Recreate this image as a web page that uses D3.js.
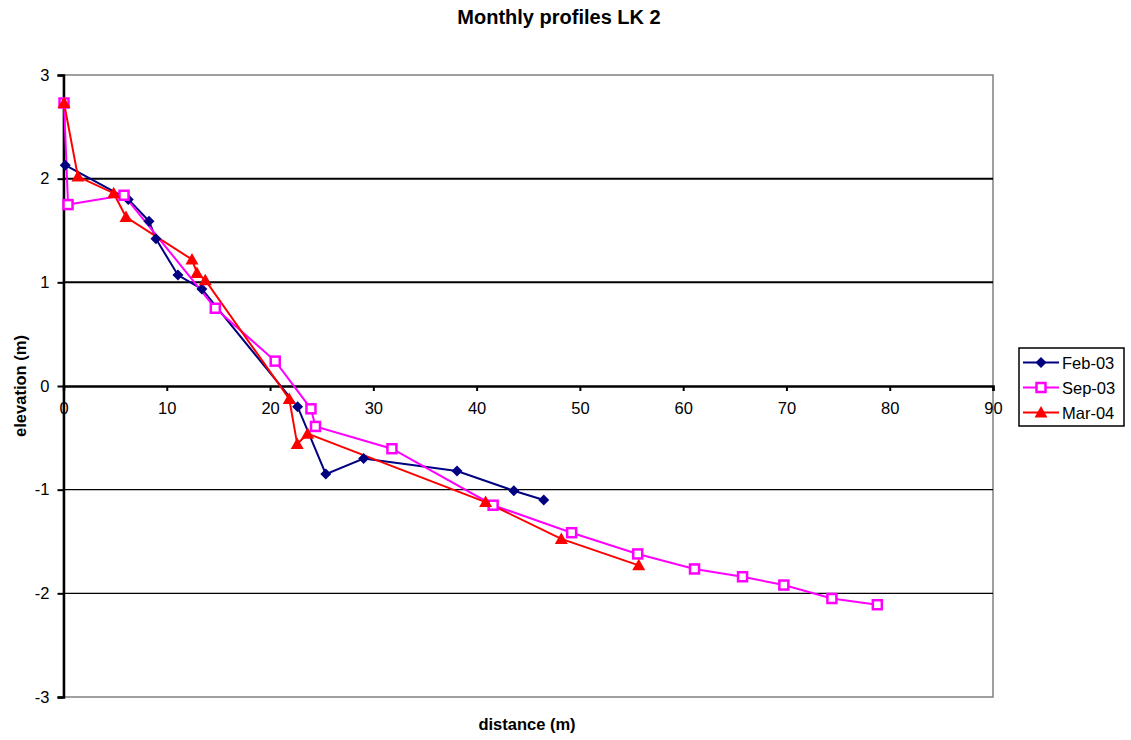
<!DOCTYPE html>
<html>
<head>
<meta charset="utf-8">
<script src="https://cdn.jsdelivr.net/npm/d3@7"></script>
<style>
  body { margin: 0; background: #fff; }
  svg { font-family: Arial, "Liberation Sans", sans-serif; }
</style>
</head>
<body>
<svg id="chart" width="1131" height="740"></svg>
<script>
const width = 1131,
      height = 740,
      margin = { top: 75, right: 138, bottom: 43, left: 63.5 }

const seriesNames = ["Feb-03", "Sep-03", "Mar-04"]
const seriesColors = ["#000080", "#FF00FF", "#FF0000"]

const feb03x = [0.17, 6.27, 8.28, 8.95, 11.08, 13.4, 22.67, 25.4, 29.06, 38.1, 43.6, 46.5]
const feb03y = [2.13, 1.80, 1.59, 1.42, 1.07, 0.935, -0.20, -0.85, -0.70, -0.82, -1.01, -1.10]

const sep03x = [0.05, 0.44, 5.86, 14.7, 20.5, 23.96, 24.4, 31.8, 41.6, 49.2, 55.6, 61.1, 65.75, 69.75, 74.4, 78.8]
const sep03y = [2.73, 1.75, 1.84, 0.75, 0.24, -0.22, -0.39, -0.605, -1.15, -1.415, -1.62, -1.765, -1.84, -1.92, -2.05, -2.11]

const mar04x = [0.05, 1.4, 4.86, 6.05, 12.44, 12.92, 13.73, 21.86, 22.63, 23.64, 40.87, 48.2, 55.7]
const mar04y = [2.73, 2.02, 1.86, 1.63, 1.22, 1.09, 1.02, -0.125, -0.56, -0.46, -1.12, -1.475, -1.73]

const xTicks = [0, 10, 20, 30, 40, 50, 60, 70, 80, 90]
const yTicks = [-3, -2, -1, 0, 1, 2, 3]

const series = [
  { name: seriesNames[0], color: seriesColors[0], shape: "diamond", pts: feb03x.map((x, i) => [x, feb03y[i]]) },
  { name: seriesNames[1], color: seriesColors[1], shape: "square", pts: sep03x.map((x, i) => [x, sep03y[i]]) },
  { name: seriesNames[2], color: seriesColors[2], shape: "triangle", pts: mar04x.map((x, i) => [x, mar04y[i]]) }
]

const svg = d3.select("#chart")

const x = d3.scaleLinear().domain([0, 90]).range([margin.left, width - margin.right])
const y = d3.scaleLinear().domain([-3, 3]).range([height - margin.bottom, margin.top])

// plot border
svg.append("rect")
  .attr("x", x(0)).attr("y", y(3))
  .attr("width", x(90) - x(0)).attr("height", y(-3) - y(3))
  .attr("fill", "none").attr("stroke", "#808080").attr("stroke-width", 1.5)

// gridlines
svg.append("g").selectAll("line")
  .data(yTicks.filter(d => d !== 0 && d !== 3 && d !== -3))
  .enter().append("line")
    .attr("x1", x(0)).attr("x2", x(90))
    .attr("y1", d => y(d)).attr("y2", d => y(d))
    .attr("stroke", "#000")
    .attr("stroke-width", d => d > 0 ? 2 : 1.2)

// y axis
const yAxis = svg.append("g")
  .attr("transform", `translate(${x(0)},0)`)
  .call(d3.axisLeft(y).tickValues(yTicks).tickSize(6).tickPadding(8).tickFormat(d => String(d)))
yAxis.select(".domain").attr("stroke", "#000").attr("stroke-width", 2.5)
yAxis.selectAll(".tick line").attr("stroke", "#000").attr("stroke-width", 2)
yAxis.selectAll("text").attr("font-size", 16.5).attr("fill", "#000")

// x axis at y = 0
const xAxis = svg.append("g")
  .attr("transform", `translate(0,${y(0)})`)
  .call(d3.axisBottom(x).tickValues(xTicks).tickSize(5).tickPadding(11).tickFormat(d => String(d)))
xAxis.select(".domain").attr("stroke", "#000").attr("stroke-width", 2.5)
xAxis.selectAll(".tick line").attr("stroke", "#000").attr("stroke-width", 2)
xAxis.selectAll("text").attr("font-size", 16.5).attr("fill", "#000")

// lines
const line = d3.line().x(d => x(d[0])).y(d => y(d[1]))

function drawMarker(g, shape, color) {
  if (shape === "diamond") {
    g.append("path").attr("d", "M0,-5.5L5.5,0L0,5.5L-5.5,0Z").attr("fill", color)
  } else if (shape === "square") {
    g.append("rect").attr("x", -4.5).attr("y", -4.5).attr("width", 9).attr("height", 9)
      .attr("fill", "#fff").attr("stroke", color).attr("stroke-width", 2.5)
  } else {
    g.append("path").attr("d", "M0,-6.5L6.5,5L-6.5,5Z").attr("fill", color)
  }
}

series.forEach(s => {
  svg.append("path")
    .datum(s.pts)
    .attr("d", line)
    .attr("fill", "none")
    .attr("stroke", s.color)
    .attr("stroke-width", 2)
})

series.forEach(s => {
  svg.append("g").selectAll("g")
    .data(s.pts)
    .enter().append("g")
      .attr("transform", d => `translate(${x(d[0])},${y(d[1])})`)
      .each(function () { drawMarker(d3.select(this), s.shape, s.color) })
})

// title and axis labels
svg.append("text")
  .attr("x", 559).attr("y", 24)
  .attr("text-anchor", "middle")
  .attr("font-size", 20).attr("font-weight", "bold")
  .text("Monthly profiles LK 2")

svg.append("text")
  .attr("x", 527).attr("y", 730)
  .attr("text-anchor", "middle")
  .attr("font-size", 16.5).attr("font-weight", "bold")
  .text("distance (m)")

svg.append("text")
  .attr("transform", `translate(26,${y(0)}) rotate(-90)`)
  .attr("text-anchor", "middle")
  .attr("font-size", 16.5).attr("font-weight", "bold")
  .text("elevation (m)")

// legend
const legend = svg.append("g").attr("transform", "translate(1019,348)")
legend.append("rect")
  .attr("width", 105).attr("height", 78)
  .attr("fill", "#fff").attr("stroke", "#000").attr("stroke-width", 1.5)

series.forEach((s, i) => {
  const row = legend.append("g").attr("transform", `translate(0,${14.5 + i * 25})`)
  row.append("line").attr("x1", 4).attr("x2", 40).attr("y1", 0).attr("y2", 0)
    .attr("stroke", s.color).attr("stroke-width", 2)
  drawMarker(row.append("g").attr("transform", "translate(22,0)"), s.shape, s.color)
  row.append("text").attr("x", 43).attr("y", 6)
    .attr("font-size", 16.5).attr("fill", "#000")
    .text(s.name)
})
</script>
</body>
</html>
